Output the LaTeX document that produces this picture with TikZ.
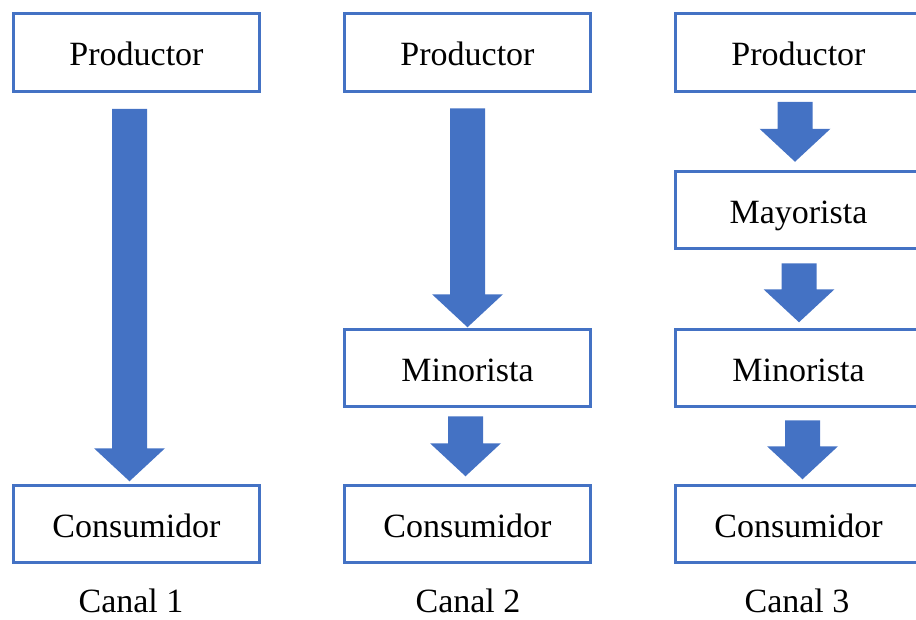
\documentclass[tikz,border=0pt]{standalone}
\usepackage{fontspec}
\setmainfont{Liberation Serif}
\usetikzlibrary{calc}

\definecolor{flowblue}{HTML}{4472C4}

\tikzset{
  stage/.style={draw=flowblue, line width=3pt, fill=white, inner sep=0pt,
    minimum width=246pt, minimum height=77.5pt,
    text height=26pt, text depth=0pt,
    font=\fontsize{34}{40}\selectfont},
  channel/.style={anchor=base, inner sep=0pt, font=\fontsize{34}{40}\selectfont},
  flow/.style={fill=flowblue}
}

% Block arrow between two stages: #1 upper node, #2 lower node,
% #3 horizontal shift, #4 gap below #1, #5 gap above #2 (all in pt)
\newcommand\flowarrow[5]{%
  \fill[flow] let \p1=(#1.south), \p2=(#2.north) in
    (\x1+#3pt-17.5pt, \y1-#4pt) -- (\x1+#3pt+17.5pt, \y1-#4pt)
    -- (\x1+#3pt+17.5pt, \y2+#5pt+33pt) -- (\x1+#3pt+35.5pt, \y2+#5pt+33pt)
    -- (\x1+#3pt, \y2+#5pt)
    -- (\x1+#3pt-35.5pt, \y2+#5pt+33pt) -- (\x1+#3pt-17.5pt, \y2+#5pt+33pt)
    -- cycle;}

\begin{document}
\begin{tikzpicture}[x=1pt, y=-1pt]
  \useasboundingbox (0,0) rectangle (916,619);
  \clip (0,0) rectangle (916,619);

  % Canal 1
  \node[stage] (p1) at (136.5,52.5) {Productor};
  \node[stage] (c1) at (136.5,524) {Consumidor};
  \node[channel] (k1) at (131,612) {Canal 1};

  % Canal 2
  \node[stage] (p2) at (467.5,52.5) {Productor};
  \node[stage] (m2) at (467.5,368) {Minorista};
  \node[stage] (c2) at (467.5,524) {Consumidor};
  \node[channel] (k2) at (468,612) {Canal 2};

  % Canal 3
  \node[stage] (p3) at (798.5,52.5) {Productor};
  \node[stage] (y3) at (798.5,210) {Mayorista};
  \node[stage] (m3) at (798.5,368) {Minorista};
  \node[stage] (c3) at (798.5,524) {Consumidor};
  \node[channel] (k3) at (797,612) {Canal 3};

  % Flows
  \flowarrow{p1}{c1}{-7}{16}{2.5}
  \flowarrow{p2}{m2}{0}{15.5}{0.5}
  \flowarrow{m2}{c2}{-2}{8}{7.5}
  \flowarrow{p3}{y3}{-3.5}{9}{8}
  \flowarrow{y3}{m3}{0.5}{13}{5.5}
  \flowarrow{m3}{c3}{4}{12}{4.5}
\end{tikzpicture}
\end{document}
